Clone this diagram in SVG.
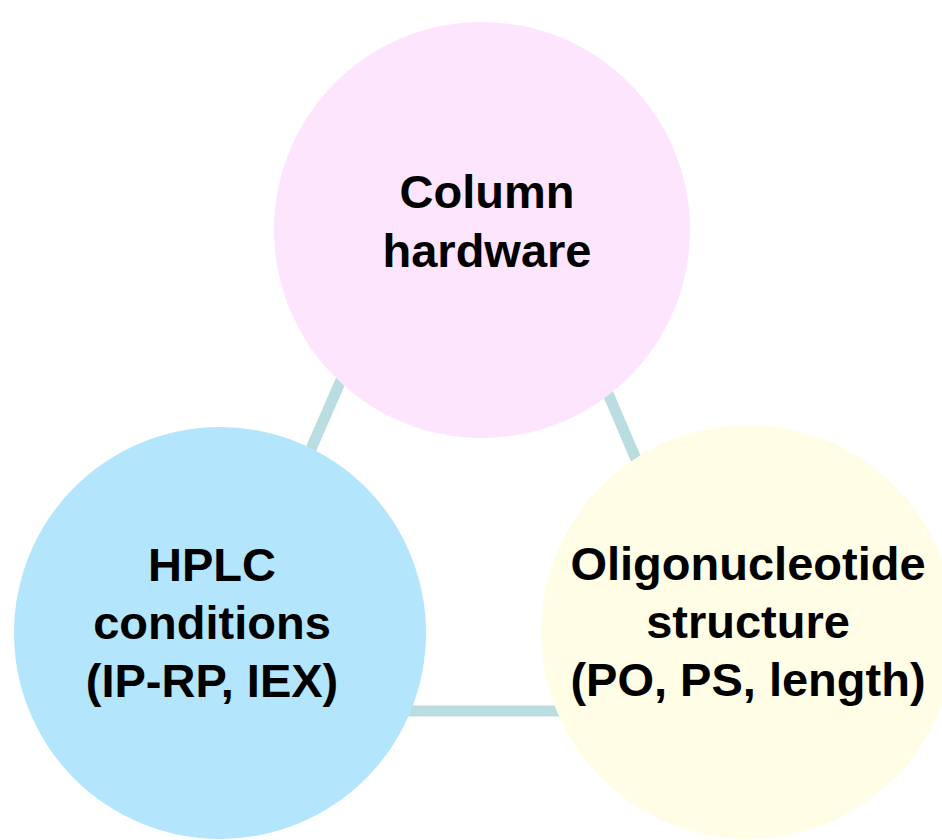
<svg xmlns="http://www.w3.org/2000/svg" width="942" height="840" viewBox="0 0 942 840">
  <style>
    .link { stroke: #b9dde0; stroke-width: 11; fill: none; }
    .label { font-family: "Liberation Sans", Arial, sans-serif; font-weight: bold; font-size: 47px; fill: #000; text-anchor: middle; }
  </style>
  <rect width="942" height="840" fill="#ffffff"/>

  <!-- connectors between the three factors -->
  <g id="connectors">
    <line class="link" x1="376" y1="300" x2="280" y2="520"/>
    <line class="link" x1="568" y1="300" x2="662" y2="520"/>
    <line class="link" x1="380" y1="711" x2="580" y2="711"/>
  </g>

  <g id="node-column">
    <circle cx="482" cy="230" r="208" fill="#fde5fd"/>
    <text class="label" x="487" y="208">Column</text>
    <text class="label" x="487" y="267">hardware</text>
  </g>

  <g id="node-hplc">
    <circle cx="220" cy="633" r="206" fill="#b3e5fc"/>
    <text class="label" x="212" y="581">HPLC</text>
    <text class="label" x="212" y="639">conditions</text>
    <text class="label" x="212" y="697">(IP-RP, IEX)</text>
  </g>

  <g id="node-oligo">
    <circle cx="748" cy="632" r="207" fill="#fffde6"/>
    <text class="label" x="748" y="580">Oligonucleotide</text>
    <text class="label" x="748" y="638">structure</text>
    <text class="label" x="748" y="696">(PO, PS, length)</text>
  </g>
</svg>
